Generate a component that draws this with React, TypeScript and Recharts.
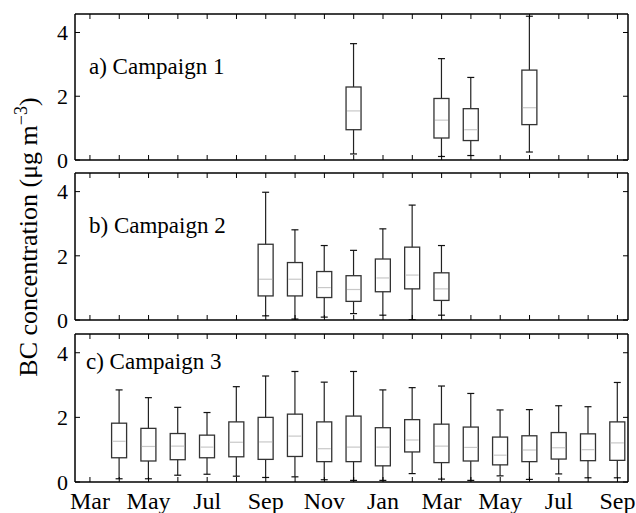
import { ComposedChart, Bar, XAxis, YAxis, Customized } from 'recharts';

const months = ['Mar', 'Apr', 'May', 'Jun', 'Jul', 'Aug', 'Sep', 'Oct', 'Nov', 'Dec', 'Jan', 'Feb', 'Mar', 'Apr', 'May', 'Jun', 'Jul', 'Aug', 'Sep'];
const monthTicks = months.map((_, i) => i);
const yTicks = [0, 2, 4];

// a) Campaign 1
const c1Month = [9, 12, 13, 15];
const c1Min = [0.19, 0.11, 0.14, 0.25];
const c1Q1 = [0.95, 0.69, 0.61, 1.11];
const c1Med = [1.54, 1.25, 0.95, 1.64];
const c1Q3 = [2.29, 1.93, 1.61, 2.82];
const c1Max = [3.65, 3.18, 2.59, 4.51];

// b) Campaign 2
const c2Month = [6, 7, 8, 9, 10, 11, 12];
const c2Min = [0.13, 0.03, 0.09, 0.2, 0.15, 0.01, 0.15];
const c2Q1 = [0.75, 0.75, 0.7, 0.58, 0.88, 0.97, 0.61];
const c2Med = [1.27, 1.27, 1.01, 0.95, 1.31, 1.4, 0.97];
const c2Q3 = [2.36, 1.79, 1.51, 1.38, 1.9, 2.27, 1.47];
const c2Max = [3.98, 2.81, 2.32, 2.17, 2.84, 3.58, 2.32];

// c) Campaign 3
const c3Month = [1, 2, 3, 4, 5, 6, 7, 8, 9, 10, 11, 12, 13, 14, 15, 16, 17, 18];
const c3Min = [0.1, 0.1, 0.21, 0.24, 0.18, 0.14, 0.16, 0.07, 0.05, 0.05, 0.26, 0.09, 0.05, 0.19, 0.08, 0.25, 0.13, 0.13];
const c3Q1 = [0.75, 0.65, 0.69, 0.75, 0.78, 0.7, 0.79, 0.63, 0.63, 0.5, 0.93, 0.6, 0.65, 0.53, 0.63, 0.71, 0.66, 0.67];
const c3Med = [1.26, 1.1, 1.11, 1.08, 1.23, 1.24, 1.42, 1.03, 1.08, 1.08, 1.3, 1.11, 1.07, 0.83, 0.99, 1.06, 1.0, 1.21];
const c3Q3 = [1.82, 1.66, 1.5, 1.45, 1.86, 2.0, 2.1, 1.86, 2.04, 1.68, 1.93, 1.79, 1.7, 1.39, 1.43, 1.53, 1.49, 1.86];
const c3Max = [2.85, 2.61, 2.31, 2.15, 2.95, 3.28, 3.42, 3.09, 3.42, 2.85, 2.92, 2.97, 2.74, 2.23, 2.24, 2.36, 2.33, 3.08];

const rows = (m: number[], mn: number[], q1: number[], md: number[], q3: number[], mx: number[]) =>
  m.map((v, i) => ({ m: v, min: mn[i], q1: q1[i], med: md[i], q3: q3[i], max: mx[i] }));

const font = "'Liberation Serif', 'Times New Roman', serif";

function BoxShape(props: any) {
  const { x, y, width, height, payload } = props;
  if (!payload || height == null || payload.max == null) return null;
  const { min, q1, med, q3, max } = payload;
  const k = height / (max - min);
  const py = (v: number) => y + (max - v) * k;
  const cx = x + width / 2;
  return (
    <g>
      <line x1={cx} x2={cx} y1={py(max)} y2={py(q3)} stroke="#222" strokeWidth={1.2} />
      <line x1={cx} x2={cx} y1={py(q1)} y2={py(min)} stroke="#222" strokeWidth={1.2} />
      <line x1={cx - 3.5} x2={cx + 3.5} y1={py(max)} y2={py(max)} stroke="#111" strokeWidth={1.2} />
      <line x1={cx - 3.5} x2={cx + 3.5} y1={py(min)} y2={py(min)} stroke="#111" strokeWidth={1.2} />
      <rect x={x} y={py(q3)} width={width} height={py(q1) - py(q3)} fill="none" stroke="#333" strokeWidth={1.3} />
      <line x1={x + 1} x2={x + width - 1} y1={py(med)} y2={py(med)} stroke="#c8c8c8" strokeWidth={1.2} />
    </g>
  );
}

interface PanelProps {
  data: any[];
  top: number;
  bottom: number;
  label: string;
  labelX: number;
  labelY: number;
  showMonths?: boolean;
  yTitle?: boolean;
}

function Panel({ data, top, bottom, label, labelX, labelY, showMonths, yTitle }: PanelProps) {
  const axisLine = { stroke: '#000', strokeWidth: 1.5 };
  const tickLine = { stroke: '#000', strokeWidth: 1 };
  return (
    <div style={{ position: 'absolute', left: 0, top: 0 }}>
      <ComposedChart
        width={636}
        height={513}
        data={data}
        style={{ fontFamily: font }}
        margin={{ top: top - 1, right: 7, bottom: 513 - bottom - 1, left: 74 }}
      >
        <XAxis
          xAxisId="b"
          type="number"
          dataKey="m"
          domain={[-0.51, 18.36]}
          allowDataOverflow
          ticks={monthTicks}
          interval={0}
          height={1}
          tickSize={-5}
          tickMargin={showMonths ? 15 : 0}
          tickFormatter={(v: number) => (showMonths && v % 2 === 0 ? months[v] : '')}
          tick={{ fontSize: 24, fill: '#000', fontFamily: font }}
          axisLine={axisLine}
          tickLine={tickLine}
        />
        <XAxis
          xAxisId="t"
          orientation="top"
          type="number"
          dataKey="m"
          domain={[-0.51, 18.36]}
          allowDataOverflow
          ticks={monthTicks}
          interval={0}
          height={1}
          tickSize={-5}
          tickFormatter={() => ''}
          axisLine={axisLine}
          tickLine={tickLine}
        />
        <YAxis
          yAxisId="l"
          domain={[0, 4.58]}
          allowDataOverflow
          ticks={yTicks}
          interval={0}
          width={1}
          tickSize={-5}
          tickMargin={12}
          tick={{ fontSize: 22, fill: '#000', fontFamily: font }}
          axisLine={axisLine}
          tickLine={tickLine}
        />
        <YAxis
          yAxisId="r"
          orientation="right"
          domain={[0, 4.58]}
          allowDataOverflow
          ticks={yTicks}
          interval={0}
          width={1}
          tickSize={-5}
          tickFormatter={() => ''}
          axisLine={axisLine}
          tickLine={tickLine}
        />
        <Bar
          xAxisId="b"
          yAxisId="l"
          dataKey={(d: any) => [d.min, d.max]}
          barSize={15}
          shape={BoxShape}
          isAnimationActive={false}
        />
        <Customized
          component={() => (
            <g>
              <text x={labelX} y={labelY} fontSize={23} style={{ fontFamily: font }} fill="#000">
                {label}
              </text>
              {yTitle && (
                <text
                  x={37}
                  y={237}
                  transform="rotate(-90 37 237)"
                  textAnchor="middle"
                  fontSize={26}
                  style={{ fontFamily: font }}
                  fill="#000"
                >
                  BC concentration (μg m
                  <tspan dy={-10} fontSize={18}>−3</tspan>
                  <tspan dy={10}>)</tspan>
                </text>
              )}
            </g>
          )}
        />
      </ComposedChart>
    </div>
  );
}

export default function App() {
  return (
    <div style={{ position: 'absolute', left: 0, top: 0, width: 636, height: 513, background: '#fff', fontFamily: font }}>
      <Panel data={rows(c1Month, c1Min, c1Q1, c1Med, c1Q3, c1Max)} top={14} bottom={160} label="a) Campaign 1" labelX={89} labelY={74} />
      <Panel data={rows(c2Month, c2Min, c2Q1, c2Med, c2Q3, c2Max)} top={173} bottom={320} label="b) Campaign 2" labelX={89} labelY={233} yTitle />
      <Panel data={rows(c3Month, c3Min, c3Q1, c3Med, c3Q3, c3Max)} top={334} bottom={482} label="c) Campaign 3" labelX={86} labelY={369} showMonths />
    </div>
  );
}
